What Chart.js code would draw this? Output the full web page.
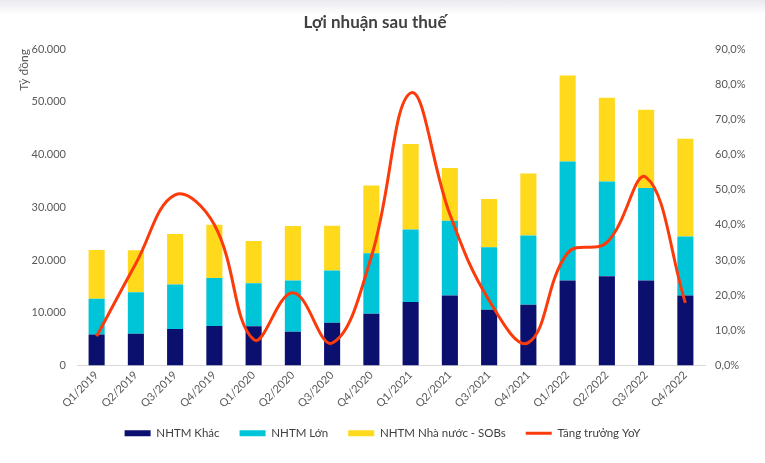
<!DOCTYPE html>
<html lang="vi">
<head>
<meta charset="UTF-8">
<title>Lợi nhuận sau thuế</title>
<style>
    html, body {
        margin: 0;
        padding: 0;
        width: 765px;
        height: 463px;
        overflow: hidden;
        background: linear-gradient(#e9e9f0 0px, #ffffff 14px, #ffffff 100%);
    }
    .chart-box {
        position: relative;
        width: 765px;
        height: 463px;
    }
    /* Tiêu đề đặt bằng HTML để căn đúng vị trí như ảnh gốc */
    .chart-title {
        position: absolute;
        top: 12px;
        left: 0;
        width: 750px;
        text-align: center;
        font-family: 'Lato', sans-serif;
        font-weight: bold;
        font-size: 17px;
        line-height: 20px;
        color: #404040;
    }
</style>
</head>
<body>

<div class="chart-box">
    <div class="chart-title">Lợi nhuận sau thuế</div>
    <canvas id="profitChart"></canvas>
</div>

<script src="https://cdn.jsdelivr.net/npm/chart.js"></script>
<script>
    // Dữ liệu (tỷ đồng, %)
    const quarters = ['Q1/2019', 'Q2/2019', 'Q3/2019', 'Q4/2019', 'Q1/2020', 'Q2/2020', 'Q3/2020', 'Q4/2020',
                      'Q1/2021', 'Q2/2021', 'Q3/2021', 'Q4/2021', 'Q1/2022', 'Q2/2022', 'Q3/2022', 'Q4/2022'];
    const nhtmKhac    = [5900, 6000, 6900, 7500, 7450, 6400, 8100, 9800, 12050, 13250, 10550, 11500, 16100, 16900, 16100, 13250];
    const nhtmLon     = [6750, 7900, 8450, 9100, 8150, 9700, 9900, 11500, 13750, 14200, 11850, 13150, 22550, 18000, 17550, 11200];
    const nhtmNhaNuoc = [9250, 7950, 9600, 10100, 8000, 10350, 8500, 12800, 16200, 10000, 9150, 11750, 16350, 15850, 14850, 18550];
    const tangTruong  = [8.3, 29.0, 48.5, 40.0, 7.4, 20.7, 6.4, 31.0, 77.5, 43.0, 18.5, 6.5, 32.0, 35.0, 53.5, 17.8];

    const leftMax = 60000, leftStep = 10000;
    const rightMax = 90, rightStep = 10;

    const tickFont = { family: 'Lato', size: 11 };
    const tickColor = '#595959';

    const ctx = document.getElementById('profitChart').getContext('2d');
    const profitChart = new Chart(ctx, {
        type: 'bar',
        data: {
            labels: quarters,
            datasets: [
                { label: 'NHTM Khác', data: nhtmKhac, backgroundColor: '#0b0f6e', pointStyle: 'rect', order: 1 },
                { label: 'NHTM Lớn', data: nhtmLon, backgroundColor: '#00c5d8', pointStyle: 'rect', order: 1 },
                { label: 'NHTM Nhà nước - SOBs', data: nhtmNhaNuoc, backgroundColor: '#ffd91c', pointStyle: 'rect', order: 1 },
                {
                    type: 'line',
                    label: 'Tăng trưởng YoY',
                    data: tangTruong,
                    yAxisID: 'y1',
                    borderColor: '#fb3b0b',
                    backgroundColor: '#fb3b0b',
                    borderWidth: 3,
                    pointRadius: 0,
                    tension: 0.4,
                    pointStyle: 'line',
                    order: -1
                }
            ]
        },
        options: {
            responsive: true,
            maintainAspectRatio: false,
            animation: false,
            categoryPercentage: 1,
            barPercentage: 0.41,
            layout: { padding: { left: 8, right: 8, top: 49, bottom: 14 } },
            plugins: {
                title: { display: false },
                legend: {
                    position: 'bottom',
                    labels: {
                        usePointStyle: true,
                        pointStyleWidth: 26,
                        boxHeight: 6,
                        padding: 20,
                        color: '#404040',
                        font: { family: 'Lato', size: 11.5 },
                        sort: (a, b) => a.datasetIndex - b.datasetIndex
                    }
                },
                tooltip: { enabled: false }
            },
            scales: {
                x: {
                    stacked: true,
                    grid: { display: false, drawTicks: false },
                    border: { color: '#d9d9d9', width: 1 },
                    ticks: { color: tickColor, font: tickFont, minRotation: 45, maxRotation: 45, padding: 3 },
                    afterFit: (scale) => { scale.height = 42; }
                },
                y: {
                    stacked: true,
                    min: 0,
                    max: leftMax,
                    grid: { display: false, drawTicks: false },
                    border: { display: false },
                    ticks: {
                        stepSize: leftStep,
                        color: tickColor,
                        font: tickFont,
                        padding: 11,
                        callback: (v) => v.toLocaleString('de-DE')
                    },
                    title: {
                        display: true,
                        text: 'Tỷ đồng',
                        align: 'end',
                        color: tickColor,
                        font: { family: 'Lato', size: 12 },
                        padding: { top: 9, bottom: 0 }
                    },
                    afterFit: (scale) => { scale.width = 69; }
                },
                y1: {
                    position: 'right',
                    min: 0,
                    max: rightMax,
                    grid: { display: false, drawTicks: false },
                    border: { display: false },
                    ticks: {
                        stepSize: rightStep,
                        color: tickColor,
                        font: tickFont,
                        padding: 10,
                        callback: (v) => v.toFixed(1).replace('.', ',') + '%'
                    },
                    afterFit: (scale) => { scale.width = 52; }
                }
            }
        }
    });
</script>

</body>
</html>
